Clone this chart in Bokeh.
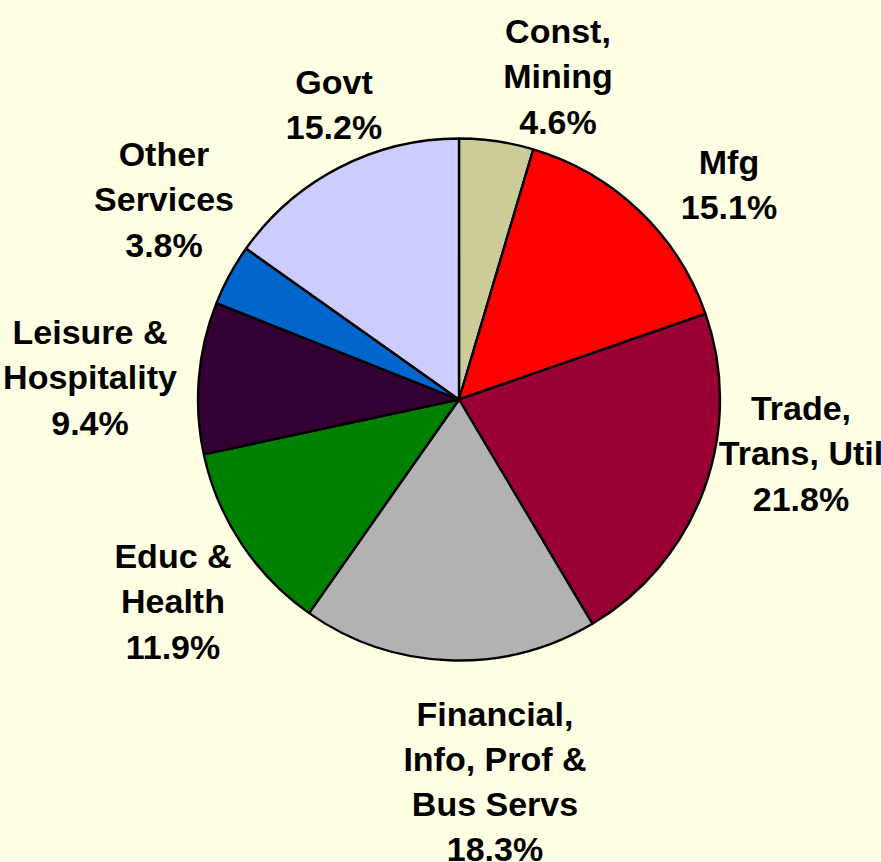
import numpy as np
from bokeh.plotting import figure, ColumnDataSource
from bokeh.models import Range1d
from bokeh.core.properties import value
from bokeh.embed import file_html
from bokeh.resources import INLINE

# ---- data ----
categories = ["Const,\nMining", "Mfg", "Trade,\nTrans, Util",
              "Financial,\nInfo, Prof &\nBus Servs", "Educ &\nHealth",
              "Leisure &\nHospitality", "Other\nServices", "Govt"]
shares = [4.6, 15.1, 21.8, 18.3, 11.9, 9.4, 3.8, 15.2]
colors = ["#CCCC99", "#FF0000", "#990033", "#B2B2B2", "#008000",
          "#330033", "#0066CC", "#CCCCFF"]

# ---- layout (page pixels) ----
W, H = 881, 862
BG = "#FFFFE3"
cx_page, cy_page, R = 458.5, 399.0, 261.0
# label block centres relative to pie centre (page px, y down)
label_offsets = [(99, -323), (270, -215), (342, 54), (36, 382),
                 (-286, 202), (-369, -22), (-295, -200), (-125, -295)]

def to_data(px, py):
    return px, H - py

cx, cy = to_data(cx_page, cy_page)

vals = np.array(shares)
frac = np.cumsum(vals) / vals.sum()
before = np.concatenate([[0.0], frac[:-1]])
start = np.pi / 2 - 2 * np.pi * before
end = np.pi / 2 - 2 * np.pi * frac

src = ColumnDataSource(dict(start=start, end=end, color=colors))

p = figure(width=W, height=H, output_backend="svg", toolbar_location=None,
           x_range=Range1d(0, W), y_range=Range1d(0, H),
           min_border=0, background_fill_color=BG, border_fill_color=BG,
           outline_line_color=None)
p.axis.visible = False
p.grid.visible = False

p.wedge(x=cx, y=cy, radius=R, start_angle="start", end_angle="end",
        direction="clock", fill_color="color", line_color="black",
        line_width=2.4, source=src)

labels = [f"{c}\n{v}%" for c, v in zip(categories, shares)]
lx = [cx_page + dx for dx, dy in label_offsets]
ly = [to_data(0, cy_page + dy)[1] for dx, dy in label_offsets]
p.text(x=lx, y=ly, text=labels, text_align="center", text_baseline="middle",
       text_font=value("Liberation Sans"), text_font_style="bold",
       text_font_size="34px", text_line_height=1.19, text_color="black")

html = file_html(p, INLINE)
html = html.replace("<head>", "<head><style>body{background:%s;}</style>" % BG, 1)
open("out.html", "w").write(html)
